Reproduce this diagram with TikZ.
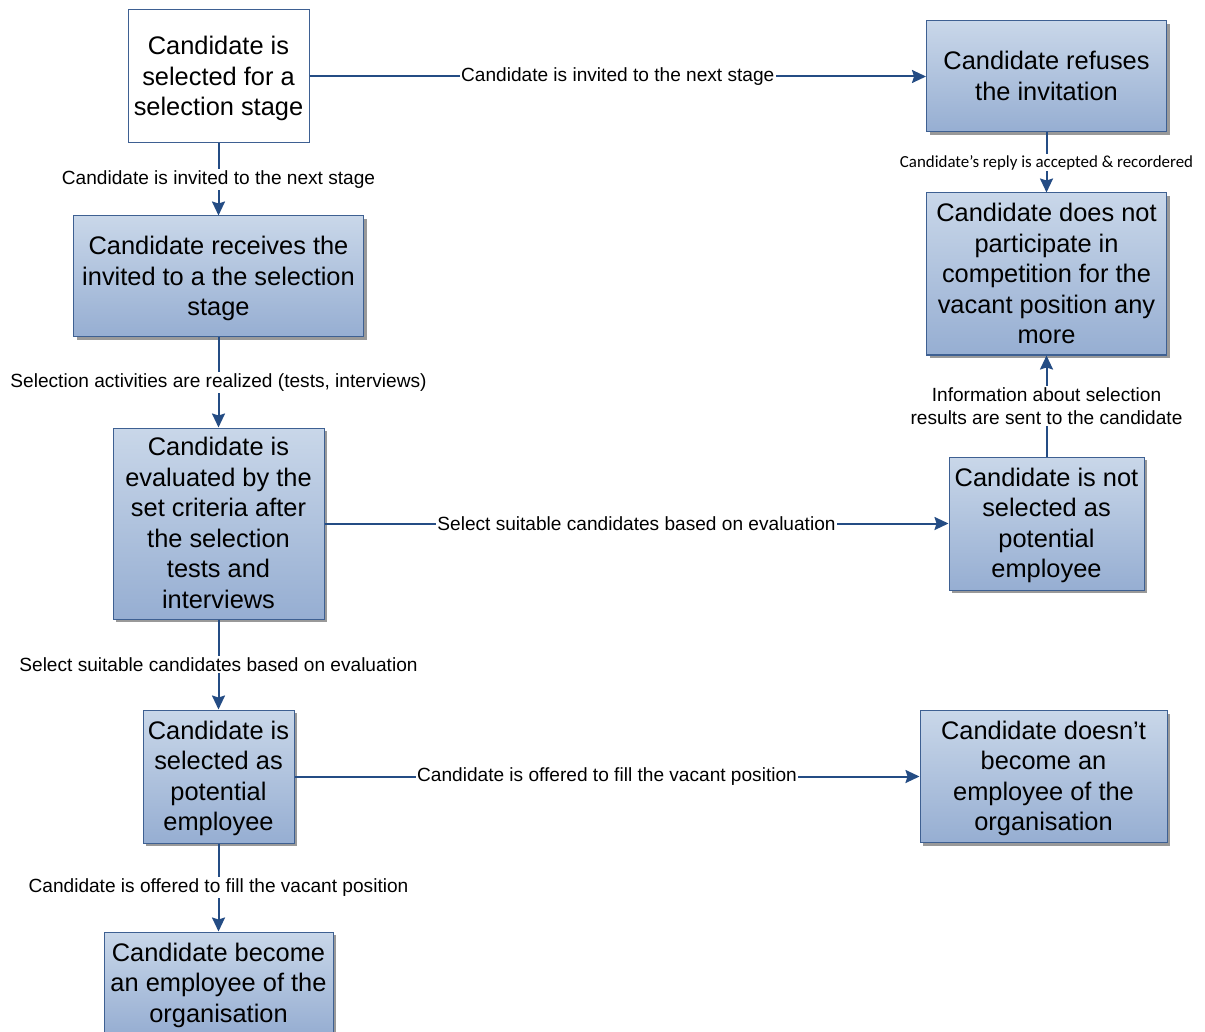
\documentclass[tikz,border=0pt]{standalone}
\usepackage{fontspec}
\setmainfont{Liberation Sans}
\newfontfamily\calibfont{Carlito}
\usetikzlibrary{arrows.meta,shadows}

\definecolor{boxborder}{RGB}{62,96,146}
\definecolor{gtop}{RGB}{201,215,233}
\definecolor{gbot}{RGB}{150,174,210}
\definecolor{linkcol}{RGB}{36,76,132}

\tikzset{
  x=1pt, y=-1pt,
  stagebox/.style={draw=boxborder, line width=1pt, top color=gtop, bottom color=gbot,
    align=center, inner sep=0pt, text depth=1pt, font=\fontsize{25.4}{30.5}\selectfont,
    drop shadow={shadow xshift=3pt, shadow yshift=-3pt, fill=black!40, opacity=1}},
  startbox/.style={draw=boxborder, line width=1pt, fill=white,
    align=center, inner sep=0pt, text depth=1pt, font=\fontsize{25.4}{30.5}\selectfont},
  link/.style={draw=linkcol, line width=2pt, -{Stealth[length=14pt,width=13pt,inset=2pt]}},
  lbl/.style={fill=white, inner sep=1.5pt, align=center, text=black,
    font=\fontsize{19.1}{23}\selectfont},
  smalllbl/.style={fill=white, inner sep=1.5pt, text=black,
    font=\calibfont\fontsize{16.9}{20}\selectfont},
}

\begin{document}
\begin{tikzpicture}
\useasboundingbox (0,0) rectangle (1205,1032);

% left column
\node[startbox, minimum width=181pt, minimum height=133pt] (sel) at (218.5,76.5)
  {Candidate is\\selected for a\\selection stage};
\node[stagebox, minimum width=290pt, minimum height=121pt] (rcv) at (218.5,276.5)
  {Candidate receives the\\invited to a the selection\\stage};
\node[stagebox, minimum width=211pt, minimum height=191pt] (eval) at (218.5,523.5)
  {Candidate is\\evaluated by the\\set criteria after\\the selection\\tests and\\interviews};
\node[stagebox, minimum width=151pt, minimum height=133pt] (pot) at (218.5,776.5)
  {Candidate is\\selected as\\potential\\employee};
\node[stagebox, minimum width=229pt, minimum height=102pt] (emp) at (218.5,983)
  {Candidate become\\an employee of the\\organisation};

% right column
\node[stagebox, minimum width=240pt, minimum height=111pt] (ref) at (1046.5,76.5)
  {Candidate refuses\\the invitation};
\node[stagebox, minimum width=240pt, minimum height=162pt] (out) at (1046.5,274)
  {Candidate does not\\participate in\\competition for the\\vacant position any\\more};
\node[stagebox, minimum width=195pt, minimum height=133pt] (nsel) at (1046.5,523.5)
  {Candidate is not\\selected as\\potential\\employee};
\node[stagebox, minimum width=247pt, minimum height=132pt] (nemp) at (1043.5,776.5)
  {Candidate doesn't\\become an\\employee of the\\organisation};

% connectors
\draw[link] (sel) -- node[lbl] {Candidate is invited to the next stage} (rcv);
\draw[link] (rcv) -- node[lbl] {Selection activities are realized (tests, interviews)} (eval);
\draw[link] (eval) -- node[lbl] {Select suitable candidates based on evaluation} (pot);
\draw[link] (pot) -- node[lbl] {Candidate is offered to fill the vacant position} (emp);

\draw[link] (sel) -- node[lbl] {Candidate is invited to the next stage} (ref);
\draw[link] (eval) -- node[lbl] {Select suitable candidates based on evaluation} (nsel);
\draw[link] (pot) -- node[lbl] {Candidate is offered to fill the vacant position} (pot -| nemp.west);

\draw[link] (ref) -- node[smalllbl] {Candidate’s reply is accepted \& recordered} (out);
\draw[link] (nsel) -- node[lbl] {Information about selection\\results are sent to the candidate} (out);
\end{tikzpicture}
\end{document}
